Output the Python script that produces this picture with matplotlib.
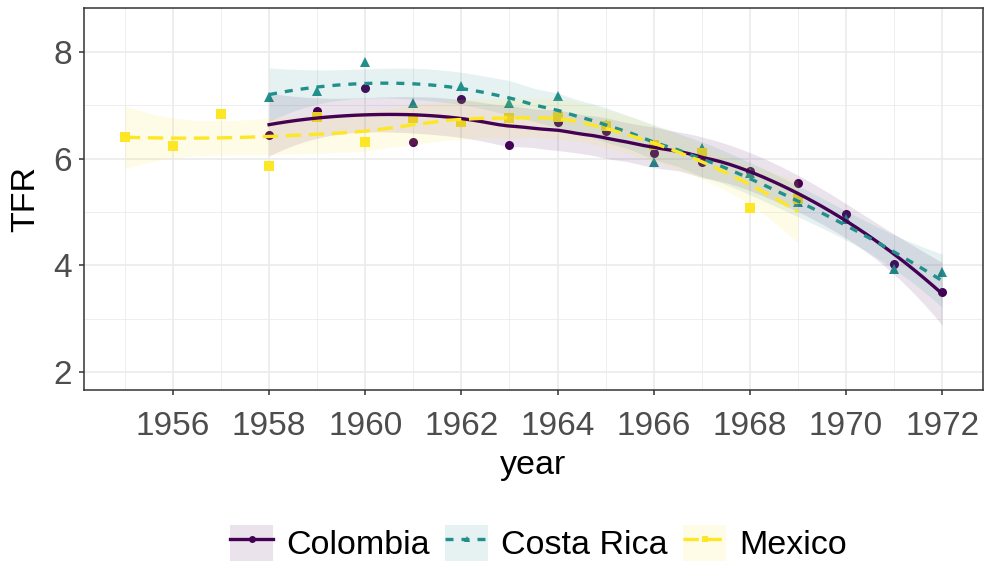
import math
import numpy as np
import matplotlib
matplotlib.use("Agg")
import matplotlib.pyplot as plt
from matplotlib.lines import Line2D
from matplotlib.patches import Patch
from matplotlib.legend_handler import HandlerTuple

plt.rcParams['font.family'] = ['Liberation Sans', 'DejaVu Sans']

# ---------------- data ----------------
countries = ["Colombia", "Costa Rica", "Mexico"]

years_colombia = list(range(1958, 1973))
tfr_colombia = [6.44, 6.89, 7.32, 6.31, 7.12, 6.25, 6.68, 6.52, 6.10, 5.94,
                5.77, 5.54, 4.97, 4.02, 3.50]

years_costa_rica = list(range(1958, 1973))
tfr_costa_rica = [7.16, 7.27, 7.82, 7.05, 7.36, 7.04, 7.17, 6.64, 5.94, 6.20,
                  5.73, 5.19, 4.86, 3.93, 3.87]

years_mexico = list(range(1955, 1970))
tfr_mexico = [6.41, 6.24, 6.84, 5.87, 6.79, 6.31, 6.76, 6.68, 6.76, 6.78,
              6.62, 6.26, 6.10, 5.07, 5.24]

x_ticks = [1956, 1958, 1960, 1962, 1964, 1966, 1968, 1970, 1972]
y_ticks = [2, 4, 6, 8]

colors = ["#440154", "#21908C", "#FDE725"]
markers = ["o", "^", "s"]
linestyles = ["-", (0, (2.4, 2.4)), (0, (4.6, 2.3))]


# ---------------- loess (span .75, degree 2) with 95% CI ----------------
def loess_rows(x, x0s, span=0.75):
    x = np.asarray(x, float)
    n = len(x)
    q = int(np.floor(n * span))
    rows = []
    for x0 in x0s:
        d = np.abs(x - x0)
        h = np.sort(d)[q - 1]
        u = np.clip(d / h, 0, 1)
        w = (1 - u ** 3) ** 3
        X = np.column_stack([np.ones(n), x - x0, (x - x0) ** 2])
        W = np.diag(w)
        B = np.linalg.solve(X.T @ W @ X, X.T @ W)
        rows.append(B[0])
    return np.array(rows)


def t_quantile(p, df):
    c = math.gamma((df + 1) / 2) / (math.sqrt(df * math.pi) * math.gamma(df / 2))
    ts = np.linspace(0, 10, 200001)
    pdf = c * (1 + ts ** 2 / df) ** (-(df + 1) / 2)
    cdf = 0.5 + np.concatenate([[0], np.cumsum((pdf[1:] + pdf[:-1]) / 2 * np.diff(ts))])
    return float(np.interp(p, cdf, ts))


def smooth(x, y, npts=80):
    x = np.asarray(x, float)
    y = np.asarray(y, float)
    n = len(x)
    L = loess_rows(x, x)
    IL = np.eye(n) - L
    M = IL.T @ IL
    d1 = np.trace(M)
    d2 = np.trace(M @ M)
    res = y - L @ y
    s = math.sqrt(np.sum(res ** 2) / d1)
    df = d1 ** 2 / d2
    xe = np.linspace(x.min(), x.max(), npts)
    Le = loess_rows(x, xe)
    fit = Le @ y
    se = s * np.sqrt(np.sum(Le ** 2, axis=1))
    tq = t_quantile(0.975, df)
    return xe, fit, fit - tq * se, fit + tq * se


# ---------------- figure ----------------
fig = plt.figure(figsize=(9.85, 5.62), dpi=100)
ax = fig.add_axes([0.0853, 0.306, 0.9127, 0.680])

series = [(years_colombia, tfr_colombia),
          (years_costa_rica, tfr_costa_rica),
          (years_mexico, tfr_mexico)]

for i, (xs, ys) in enumerate(series):
    ax.plot(xs, ys, linestyle="none", marker=markers[i], color=colors[i],
            markersize=6.5 if i != 1 else 7, markeredgewidth=0, zorder=3)

for i, (xs, ys) in enumerate(series):
    xe, fit, lo, hi = smooth(xs, ys)
    ax.fill_between(xe, lo, hi, color=colors[i], alpha=0.11, linewidth=0, zorder=4)
    ax.plot(xe, fit, color=colors[i], linestyle=linestyles[i], linewidth=2.4,
            zorder=5, dash_capstyle="butt")

ax.set_xlim(1954.15, 1972.85)
ax.set_ylim(1.66, 8.83)
ax.set_xticks(x_ticks)
ax.set_xticks(np.arange(1955, 1973, 2), minor=True)
ax.set_yticks(y_ticks)
ax.set_yticks([3, 5, 7], minor=True)
ax.grid(which="major", color="#EBEBEB", linewidth=1.2, zorder=0)
ax.grid(which="minor", color="#EBEBEB", linewidth=0.6, zorder=0)
ax.set_axisbelow(True)
for sp in ax.spines.values():
    sp.set_color("#333333")
    sp.set_linewidth(1.1)
ax.tick_params(which="major", length=3.5, width=1.1, color="#333333",
               labelsize=24, labelcolor="#4D4D4D", pad=5)
ax.tick_params(axis="x", which="major", pad=11.5)
ax.tick_params(which="minor", length=0)
ax.set_xlabel("year", fontsize=24.5, color="black", labelpad=6)
ax.set_ylabel("TFR", fontsize=24.5, color="black", labelpad=9)

handles = []
for i in range(3):
    patch = Patch(facecolor=colors[i], alpha=0.11, edgecolor="none")
    line = Line2D([], [], color=colors[i], linestyle=linestyles[i], linewidth=2.4,
                  marker=markers[i], markersize=5, markeredgewidth=0)
    handles.append((patch, line))

fig.legend(handles, countries, loc="center", bbox_to_anchor=(0.547, 0.034),
           ncol=3, frameon=False, fontsize=24.5,
           handler_map={tuple: HandlerTuple(ndivide=1, pad=0)},
           handlelength=1.25, handleheight=1.25, handletextpad=0.4,
           columnspacing=0.45, borderaxespad=0, borderpad=0)

fig.savefig("out.png", dpi=100)
